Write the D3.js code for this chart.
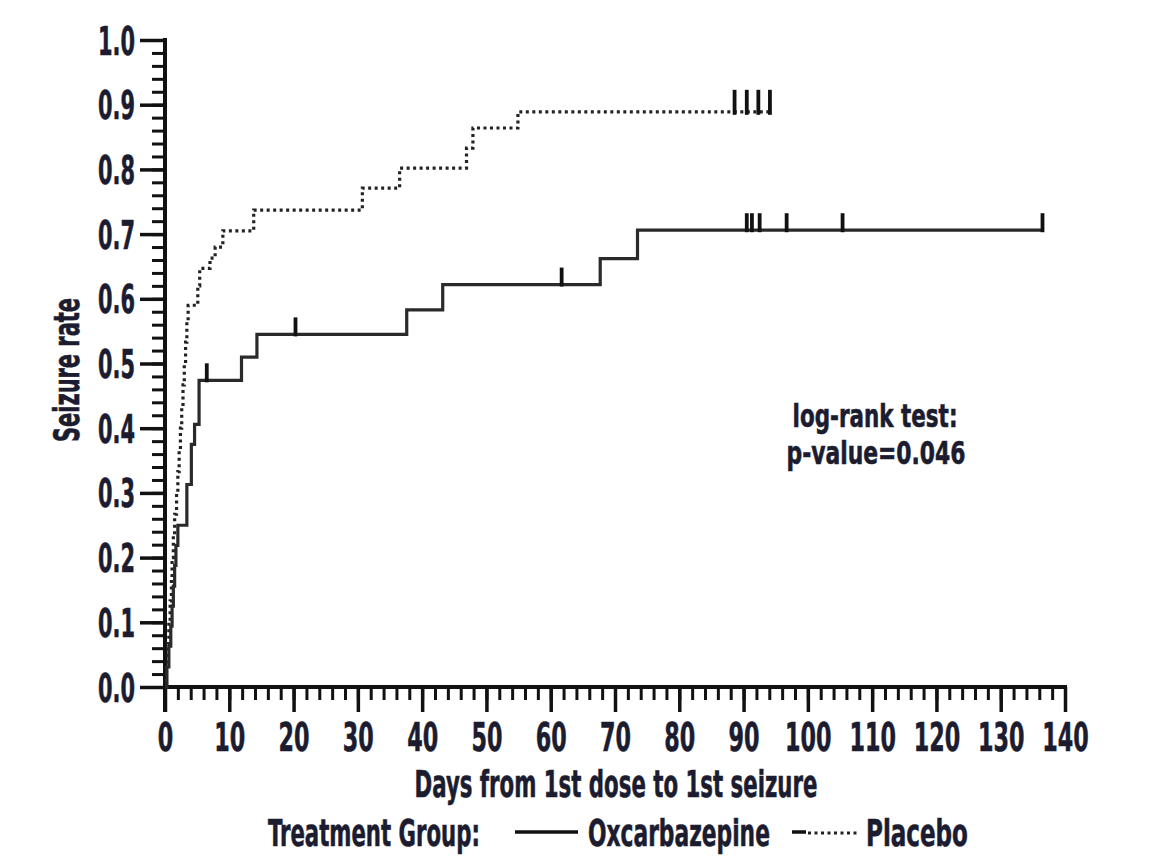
<!DOCTYPE html>
<html>
<head>
<meta charset="utf-8">
<script src="https://cdn.jsdelivr.net/npm/d3@7"></script>
<style>
  html, body { margin: 0; padding: 0; background: #fff; }
  svg { display: block; }
  .lbl { font-family: "Liberation Sans Narrow", "DejaVu Sans Condensed", "Roboto Condensed", "Arial Narrow", sans-serif; font-weight: bold; fill: #1c1c30; stroke: #1c1c30; stroke-width: 0.6px; }
</style>
</head>
<body>
<script>
// ---- data ----
const oxTimes = [0, 0.3, 0.6, 0.9, 1.1, 1.3, 1.5, 1.7, 2.0, 3.4, 4.1, 4.6, 5.3, 11.9, 14.3, 37.6, 43.2, 67.7, 73.5, 136.5];
const oxRates = [0, 0.031, 0.063, 0.094, 0.125, 0.156, 0.188, 0.219, 0.25, 0.313, 0.375, 0.406, 0.474, 0.51, 0.545, 0.583, 0.622, 0.662, 0.706, 0.706];
const oxCensor = [6.5, 20.3, 61.7, 90.5, 91.3, 92.5, 96.7, 105.4, 136.5];

const plTimes = [0, 0.2, 0.4, 0.6, 0.8, 1.0, 1.1, 1.3, 1.5, 1.8, 2.0, 2.2, 2.4, 2.6, 2.8, 3.0, 3.2, 3.4, 3.6, 5.1, 5.4, 7.0, 7.8, 9.0, 13.8, 30.7, 36.5, 46.9, 47.9, 54.9, 94.1];
const plRates = [0, 0.033, 0.067, 0.10, 0.133, 0.167, 0.20, 0.233, 0.267, 0.30, 0.333, 0.367, 0.40, 0.433, 0.467, 0.50, 0.533, 0.567, 0.59, 0.62, 0.647, 0.663, 0.68, 0.705, 0.737, 0.771, 0.802, 0.833, 0.864, 0.889, 0.889];
const plCensor = [88.6, 90.5, 92.3, 94.1];

const xMajorTicks = d3.range(0, 141, 10);
const xMinorTicks = d3.range(0, 141, 2);
const yMajorTicks = d3.range(0, 1.0001, 0.1);
const yMinorTicks = d3.range(0, 1.0001, 0.02);

const xTitle = "Days from 1st dose to 1st seizure";
const yTitle = "Seizure rate";
const legendTitle = "Treatment Group:";
const seriesNames = ["Oxcarbazepine", "Placebo"];
const annotation = ["log-rank test:", "p-value=0.046"];

// ---- drawing ----
const W = 1152, H = 864;
const svg = d3.select("body").append("svg").attr("width", W).attr("height", H);

const x = d3.scaleLinear().domain([0, 140]).range([165, 1065]);
const y = d3.scaleLinear().domain([0, 1]).range([687, 40]);

const ink = "#111";

// squeeze a text node horizontally to a target width (keeps real bbox correct)
function fitNode(node, width, tx, ty, extra) {
  const t = d3.select(node).attr("x", 0).attr("y", 0).attr("dy", null);
  const L = node.getComputedTextLength() || width;
  t.attr("transform", `translate(${tx},${ty}) ${extra || ""} scale(${width / L},1)`);
}

// minor ticks
svg.append("g").attr("transform", `translate(0,${y(0)})`)
  .call(d3.axisBottom(x).tickValues(xMinorTicks).tickSize(13).tickSizeOuter(0).tickFormat(""))
  .call(g => g.select(".domain").remove())
  .call(g => g.selectAll("line").attr("stroke", ink).attr("stroke-width", 3));
svg.append("g").attr("transform", `translate(${x(0)},0)`)
  .call(d3.axisLeft(y).tickValues(yMinorTicks).tickSize(13).tickSizeOuter(0).tickFormat(""))
  .call(g => g.select(".domain").remove())
  .call(g => g.selectAll("line").attr("stroke", ink).attr("stroke-width", 3));

// major x axis
const gx = svg.append("g").attr("transform", `translate(0,${y(0)})`)
  .call(d3.axisBottom(x).tickValues(xMajorTicks).tickSize(25).tickSizeOuter(0).tickFormat(d3.format("d")));
gx.select(".domain").attr("stroke", ink).attr("stroke-width", 4).attr("d", `M${x(0)},0H${x(140) + 2}`);
gx.selectAll("line").attr("stroke", ink).attr("stroke-width", 3.5);
gx.selectAll("text").attr("class", "lbl").attr("font-size", 39).attr("fill", null)
  .each(function (d) { fitNode(this, String(d).length * 15.5, 0, 64); });

// major y axis
const gy = svg.append("g").attr("transform", `translate(${x(0)},0)`)
  .call(d3.axisLeft(y).tickValues(yMajorTicks).tickSize(25).tickSizeOuter(0).tickFormat(d3.format(".1f")));
gy.select(".domain").attr("stroke", ink).attr("stroke-width", 4).attr("d", `M0,${y(1) - 2}V${y(0) + 25}`);
gy.selectAll("line").attr("stroke", ink).attr("stroke-width", 3.5);
gy.selectAll("text").attr("class", "lbl").attr("font-size", 39).attr("fill", null)
  .each(function () { fitNode(this, 37, -30, 14); });

// curves
const stepLine = d3.line().x(d => x(d[0])).y(d => y(d[1])).curve(d3.curveStepAfter);
const oxData = oxTimes.map((t, i) => [t, oxRates[i]]);
const plData = plTimes.map((t, i) => [t, plRates[i]]);

svg.append("path").datum(plData).attr("d", stepLine)
  .attr("fill", "none").attr("stroke", "#222").attr("stroke-width", 3.2)
  .attr("stroke-dasharray", "3,3.5");
svg.append("path").datum(oxData).attr("d", stepLine)
  .attr("fill", "none").attr("stroke", "#2a2a2a").attr("stroke-width", 3.2);

// censor marks
function rateAt(times, rates, t) {
  const i = d3.bisectRight(times, t) - 1;
  return rates[Math.max(0, i)];
}
svg.append("g").selectAll("line").data(oxCensor).join("line")
  .attr("x1", d => x(d)).attr("x2", d => x(d))
  .attr("y1", d => y(rateAt(oxTimes, oxRates, d)) + 2)
  .attr("y2", d => y(rateAt(oxTimes, oxRates, d)) - 17)
  .attr("stroke", ink).attr("stroke-width", 3.8);
svg.append("g").selectAll("line").data(plCensor).join("line")
  .attr("x1", d => x(d)).attr("x2", d => x(d))
  .attr("y1", d => y(rateAt(plTimes, plRates, d)) + 3)
  .attr("y2", d => y(rateAt(plTimes, plRates, d)) - 22)
  .attr("stroke", ink).attr("stroke-width", 3.8);

// generic text helper
function label(str, size, width, tx, ty, anchor, extra) {
  const t = svg.append("text").attr("class", "lbl").attr("font-size", size)
    .attr("text-anchor", anchor || "start").text(str);
  fitNode(t.node(), width, tx, ty, extra);
  return t;
}

// titles
label(xTitle, 37, 403, 616, 797, "middle");
label(yTitle, 35, 144, 79, 370, "middle", "rotate(-90)");

// annotation
label(annotation[0], 32, 165, 875, 427, "middle");
label(annotation[1], 32, 179, 876, 464, "middle");

// legend
const ly = 846;
label(legendTitle, 37, 212, 268, ly);
svg.append("line").attr("x1", 515).attr("x2", 578).attr("y1", 832).attr("y2", 832)
  .attr("stroke", ink).attr("stroke-width", 3.5);
label(seriesNames[0], 37, 182, 588, ly);
svg.append("line").attr("x1", 792).attr("x2", 806).attr("y1", 832).attr("y2", 832)
  .attr("stroke", ink).attr("stroke-width", 3.5);
svg.append("line").attr("x1", 808).attr("x2", 859).attr("y1", 833).attr("y2", 833)
  .attr("stroke", "#222").attr("stroke-width", 3.2).attr("stroke-dasharray", "3,3.5");
label(seriesNames[1], 37, 102, 866, ly);
</script>
</body>
</html>
